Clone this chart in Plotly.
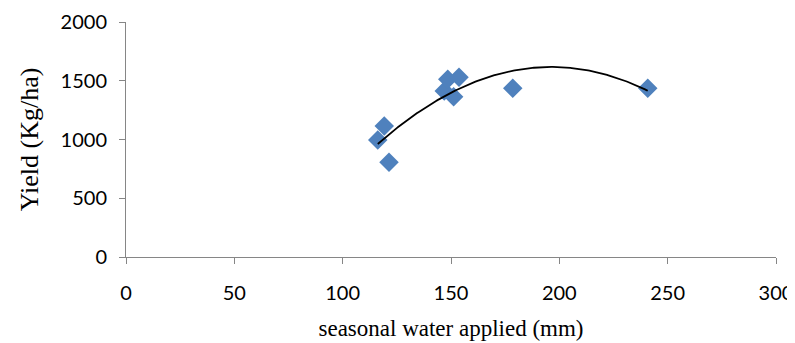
import numpy as np
import plotly.graph_objects as go

water_mm = [116.2, 119.2, 121.4, 146.9, 148.5, 151.2, 153.7, 178.5, 240.8]
yield_kg_ha = [996, 1115, 806, 1413, 1512, 1364, 1529, 1436, 1436]

coef = np.polyfit(water_mm, yield_kg_ha, 2)
xs = np.linspace(min(water_mm), max(water_mm), 200)
ys = np.polyval(coef, xs)

fig = go.Figure()
fig.add_trace(go.Scatter(x=water_mm, y=yield_kg_ha, mode="markers",
                         marker=dict(symbol="diamond", size=15, color="#4F81BD",
                                     line=dict(width=0)),
                         showlegend=False))
fig.add_trace(go.Scatter(x=xs, y=ys, mode="lines",
                         line=dict(color="black", width=1.8), showlegend=False))

serif = "Liberation Serif, Times New Roman, serif"
axis_common = dict(showgrid=False, zeroline=False, showline=True, linecolor="#868686",
                   linewidth=1, ticks="outside", tickcolor="#868686", ticklen=6,
                   automargin=False,
                   tickfont=dict(family="Lato, Open Sans, sans-serif", size=20, color="black"))
fig.update_layout(
    width=787, height=335,
    margin=dict(l=118, r=19, t=14, b=86),
    plot_bgcolor="white", paper_bgcolor="white",
    xaxis=dict(range=[0, 300], tickvals=[0, 50, 100, 150, 200, 250, 300],
               ticklabelstandoff=12,
               title=dict(text="seasonal water applied (mm)",
                          font=dict(family=serif, size=23, color="black"),
                          standoff=16),
               **axis_common),
    yaxis=dict(range=[0, 2000], tickvals=[0, 500, 1000, 1500, 2000],
               ticklabelstandoff=8,
               title=dict(text="Yield (Kg/ha)",
                          font=dict(family=serif, size=26, color="black"),
                          standoff=14),
               **axis_common),
)
fig.write_html("out.html")
